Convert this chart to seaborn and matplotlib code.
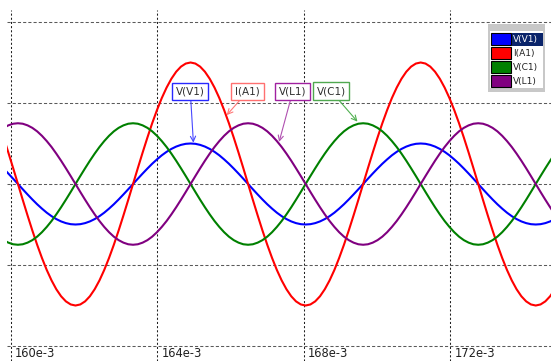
import numpy as np
import pandas as pd
import matplotlib
matplotlib.use("Agg")
import matplotlib.pyplot as plt
import matplotlib.transforms as mtransforms
from matplotlib.patches import Rectangle
import seaborn as sns

# ---------------- data ----------------
time_ms = [159.798, 159.928, 160.059, 160.190, 160.321, 160.452, 160.583, 160.714,
           160.845, 160.976, 161.107, 161.237, 161.368, 161.499, 161.630,
           161.761, 161.892, 162.023, 162.154, 162.285, 162.416, 162.546, 162.677,
           162.808, 162.939, 163.070, 163.201, 163.332, 163.463, 163.594, 163.725,
           163.855, 163.986, 164.117, 164.248, 164.379, 164.510, 164.641, 164.772,
           164.903, 165.034, 165.164, 165.295, 165.426, 165.557, 165.688, 165.819,
           165.950, 166.081, 166.212, 166.343, 166.473, 166.604, 166.735, 166.866,
           166.997, 167.128, 167.259, 167.390, 167.521, 167.652, 167.782, 167.913,
           168.044, 168.175, 168.306, 168.437, 168.568, 168.699, 168.830, 168.960,
           169.091, 169.222, 169.353, 169.484, 169.615, 169.746, 169.877, 170.008,
           170.139, 170.270, 170.400, 170.531, 170.662, 170.793, 170.924, 171.055,
           171.186, 171.317, 171.448, 171.578, 171.709, 171.840, 171.971, 172.102,
           172.233, 172.364, 172.495, 172.626, 172.757, 172.887, 173.018, 173.149,
           173.280, 173.411, 173.542, 173.673, 173.804, 173.935, 174.066, 174.196,
           174.327, 174.458, 174.589, 174.720, 174.851]

v_v1 = [0.191, 0.129, 0.065, 0.0, -0.065, -0.129, -0.191, -0.25, -0.304, -0.354,
        -0.397, -0.433, -0.462, -0.483, -0.496,
        -0.5, -0.496, -0.483, -0.462, -0.433, -0.397, -0.354, -0.304, -0.25, -0.191,
        -0.129, -0.065, 0.0, 0.065, 0.129, 0.191, 0.25, 0.304, 0.354, 0.397, 0.433,
        0.462, 0.483, 0.496, 0.5, 0.496, 0.483, 0.462, 0.433, 0.397, 0.354, 0.304,
        0.25, 0.191, 0.129, 0.065, 0.0, -0.065, -0.129, -0.191, -0.25, -0.304, -0.354,
        -0.397, -0.433, -0.462, -0.483, -0.496,
        -0.5, -0.496, -0.483, -0.462, -0.433, -0.397, -0.354, -0.304, -0.25, -0.191,
        -0.129, -0.065, 0.0, 0.065, 0.129, 0.191, 0.25, 0.304, 0.354, 0.397, 0.433,
        0.462, 0.483, 0.496, 0.5, 0.496, 0.483, 0.462, 0.433, 0.397, 0.354, 0.304,
        0.25, 0.191, 0.129, 0.065, 0.0, -0.065, -0.129, -0.191, -0.25, -0.304, -0.354,
        -0.397, -0.433, -0.462, -0.483, -0.496,
        -0.5, -0.496, -0.483, -0.462, -0.433]

i_a1 = [0.574, 0.388, 0.196, 0.0, -0.196, -0.388, -0.574, -0.75, -0.913, -1.061,
        -1.19, -1.299, -1.386, -1.449, -1.487,
        -1.5, -1.487, -1.449, -1.386, -1.299, -1.19, -1.061, -0.913, -0.75, -0.574,
        -0.388, -0.196, 0.0, 0.196, 0.388, 0.574, 0.75, 0.913, 1.061, 1.19, 1.299,
        1.386, 1.449, 1.487, 1.5, 1.487, 1.449, 1.386, 1.299, 1.19, 1.061, 0.913,
        0.75, 0.574, 0.388, 0.196, 0.0, -0.196, -0.388, -0.574, -0.75, -0.913, -1.061,
        -1.19, -1.299, -1.386, -1.449, -1.487,
        -1.5, -1.487, -1.449, -1.386, -1.299, -1.19, -1.061, -0.913, -0.75, -0.574,
        -0.388, -0.196, 0.0, 0.196, 0.388, 0.574, 0.75, 0.913, 1.061, 1.19, 1.299,
        1.386, 1.449, 1.487, 1.5, 1.487, 1.449, 1.386, 1.299, 1.19, 1.061, 0.913,
        0.75, 0.574, 0.388, 0.196, 0.0, -0.196, -0.388, -0.574, -0.75, -0.913, -1.061,
        -1.19, -1.299, -1.386, -1.449, -1.487,
        -1.5, -1.487, -1.449, -1.386, -1.299]

v_c1 = [-0.693, -0.724, -0.744, -0.75, -0.744, -0.724, -0.693, -0.65, -0.595, -0.53,
        -0.457, -0.375, -0.287, -0.194, -0.098,
        0.0, 0.098, 0.194, 0.287, 0.375, 0.457, 0.53, 0.595, 0.65, 0.693, 0.724,
        0.744, 0.75, 0.744, 0.724, 0.693, 0.65, 0.595, 0.53, 0.457, 0.375, 0.287,
        0.194, 0.098, 0.0, -0.098, -0.194, -0.287, -0.375, -0.457, -0.53, -0.595,
        -0.65, -0.693, -0.724, -0.744, -0.75, -0.744, -0.724, -0.693, -0.65, -0.595,
        -0.53, -0.457, -0.375, -0.287, -0.194, -0.098,
        0.0, 0.098, 0.194, 0.287, 0.375, 0.457, 0.53, 0.595, 0.65, 0.693, 0.724,
        0.744, 0.75, 0.744, 0.724, 0.693, 0.65, 0.595, 0.53, 0.457, 0.375, 0.287,
        0.194, 0.098, 0.0, -0.098, -0.194, -0.287, -0.375, -0.457, -0.53, -0.595,
        -0.65, -0.693, -0.724, -0.744, -0.75, -0.744, -0.724, -0.693, -0.65, -0.595,
        -0.53, -0.457, -0.375, -0.287, -0.194, -0.098,
        0.0, 0.098, 0.194, 0.287, 0.375]

v_l1 = [0.693, 0.724, 0.744, 0.75, 0.744, 0.724, 0.693, 0.65, 0.595, 0.53,
        0.457, 0.375, 0.287, 0.194, 0.098,
        0.0, -0.098, -0.194, -0.287, -0.375, -0.457, -0.53, -0.595, -0.65, -0.693, -0.724,
        -0.744, -0.75, -0.744, -0.724, -0.693, -0.65, -0.595, -0.53, -0.457, -0.375, -0.287,
        -0.194, -0.098, 0.0, 0.098, 0.194, 0.287, 0.375, 0.457, 0.53, 0.595,
        0.65, 0.693, 0.724, 0.744, 0.75, 0.744, 0.724, 0.693, 0.65, 0.595,
        0.53, 0.457, 0.375, 0.287, 0.194, 0.098,
        0.0, -0.098, -0.194, -0.287, -0.375, -0.457, -0.53, -0.595, -0.65, -0.693, -0.724,
        -0.744, -0.75, -0.744, -0.724, -0.693, -0.65, -0.595, -0.53, -0.457, -0.375, -0.287,
        -0.194, -0.098, 0.0, 0.098, 0.194, 0.287, 0.375, 0.457, 0.53, 0.595,
        0.65, 0.693, 0.724, 0.744, 0.75, 0.744, 0.724, 0.693, 0.65, 0.595,
        0.53, 0.457, 0.375, 0.287, 0.194, 0.098,
        0.0, -0.098, -0.194, -0.287, -0.375]

series_names = ["V(V1)", "I(A1)", "V(C1)", "V(L1)"]
series_colors = ["#0000FF", "#FF0000", "#008000", "#800080"]
x_ticks = [160, 164, 168, 172]
x_tick_labels = ["160e-3", "164e-3", "168e-3", "172e-3"]
y_grid = [-2, -1, 0, 1, 2]

# points on the curves where the label arrows end (time, value)
label_names = ["V(V1)", "I(A1)", "V(L1)", "V(C1)"]
label_tips_t = [164.98, 165.89, 167.32, 169.46]
label_tips_v = [0.51, 0.85, 0.52, 0.77]

# ---------------- figure ----------------
W, H = 551, 361
sns.set_style("white")
fig = plt.figure(figsize=(W / 100, H / 100), dpi=100)
fig.patch.set_facecolor("white")
ax = fig.add_axes([7 / W, 0, 544 / W, 351 / H])
px = mtransforms.Affine2D().scale(1 / W, -1 / H).translate(0, 1) + fig.transFigure

frames = []
for name, vals in zip(series_names, [v_v1, i_a1, v_c1, v_l1]):
    frames.append(pd.DataFrame({"t": time_ms, "v": vals, "signal": name}))
df = pd.concat(frames, ignore_index=True)

sns.lineplot(data=df, x="t", y="v", hue="signal", hue_order=series_names,
             palette=dict(zip(series_names, series_colors)), estimator=None,
             sort=False, legend=False, linewidth=1.5, ax=ax, zorder=3)

ax.set_xlim(159.891, 174.744)
ax.set_ylim(-2.185, 2.148)
ax.set_xticks(x_ticks)
ax.set_yticks(y_grid)
ax.set_xlabel("")
ax.set_ylabel("")
ax.tick_params(length=0, labelbottom=False, labelleft=False)
ax.xaxis.grid(True, color="#202020", linestyle=(0, (2, 2)), linewidth=0.75)
ax.yaxis.grid(True, color="#5a5a5a", linestyle=(0, (3, 2)), linewidth=0.75)
ax.set_axisbelow(True)
for s in ax.spines.values():
    s.set_visible(False)

# x tick labels drawn inside the plot
blend = mtransforms.blended_transform_factory(ax.transData, ax.transAxes)
lab_tr = mtransforms.offset_copy(blend, fig=fig, x=4, y=0, units="dots")
for tx, lab in zip(x_ticks, x_tick_labels):
    ax.text(tx, 0.002, lab, transform=lab_tr, fontsize=8.3, color="#202020",
            ha="left", va="bottom")

# curve labels with arrows
box_centers = [(190.3, 91.7), (247.5, 91.5), (292.8, 91.5), (331.0, 91.0)]
box_edges = ["#2828FF", "#FF7070", "#A020A0", "#50A850"]
arrow_cols = ["#4848FF", "#FF7878", "#B050B0", "#50B050"]
for name, tt, vv, c, ec, acol in zip(label_names, label_tips_t, label_tips_v,
                                     box_centers, box_edges, arrow_cols):
    ax.annotate(name, xy=(tt, vv), xycoords="data", xytext=c, textcoords=px,
                ha="center", va="center", fontsize=7.5, color="#303030", zorder=6,
                bbox=dict(boxstyle="square,pad=0.36", fc="white", ec=ec, lw=1),
                arrowprops=dict(arrowstyle="->,head_length=0.5,head_width=0.25",
                                color=acol, lw=0.8, shrinkA=0, shrinkB=0))

# legend panel (list-box style)
fig.add_artist(Rectangle((488, 24), 57, 68, transform=px, fc="#C8C8C8",
                         ec="none", zorder=10))
fig.add_artist(Rectangle((490, 31), 53, 57, transform=px, fc="white",
                         ec="none", zorder=11))
row_tops = [33, 47, 61, 75]
for i, (name, col, top) in enumerate(zip(series_names, series_colors, row_tops)):
    fig.add_artist(Rectangle((490.5, top), 20.5, 12, transform=px, fc=col,
                             ec="black", lw=0.8, zorder=12))
    tcol = "#202020"
    if i == 0:
        fig.add_artist(Rectangle((511.5, top), 31.5, 12.5, transform=px,
                                 fc="#0A246A", ec="none", zorder=12))
        tcol = "white"
    fig.text(513, top + 6.5, name, transform=px, fontsize=6.5, color=tcol,
             ha="left", va="center", zorder=13)

fig.savefig("out.png", dpi=100, facecolor="white")
